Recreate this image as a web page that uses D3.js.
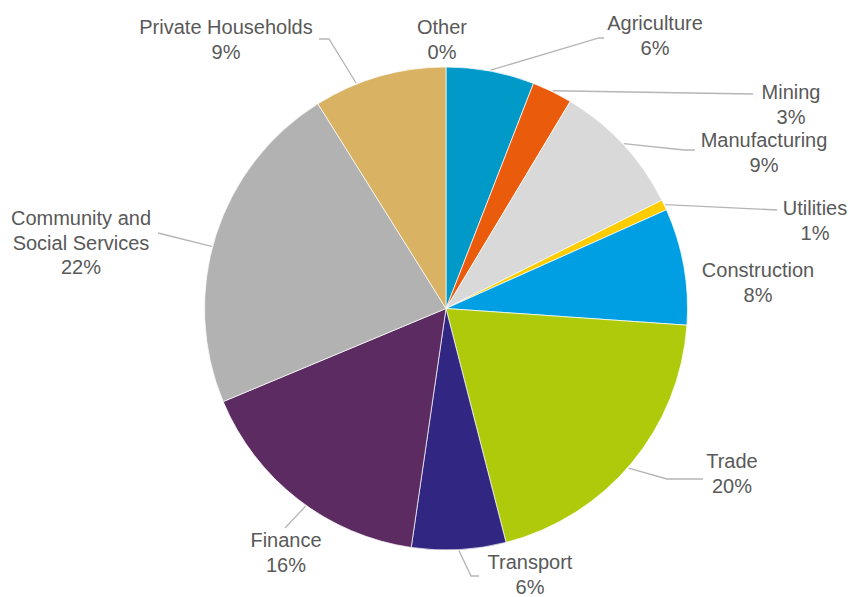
<!DOCTYPE html>
<html>
<head>
<meta charset="utf-8">
<script src="https://cdn.jsdelivr.net/npm/d3@7"></script>
<style>
  html, body { margin: 0; padding: 0; background: #ffffff; }
  svg { display: block; }
</style>
</head>
<body>
<svg id="chart" width="849" height="597"></svg>
<script>
// Employment share by sector (percent), clockwise from 12 o'clock
const sectors = ["Agriculture", "Mining", "Manufacturing", "Utilities", "Construction",
                 "Trade", "Transport", "Finance", "Community and Social Services",
                 "Private Households", "Other"];
const shares = [5.9, 2.7, 9.0, 0.7, 7.8, 19.9, 6.3, 16.4, 22.4, 8.9, 0];
const sliceColors = ["#0099C8", "#EA5B0C", "#D9D9D9", "#FFCC00", "#009FE3",
                     "#AFCA0B", "#312782", "#5C2B62", "#B2B2B2", "#D9B263", "#7F7F7F"];

// Label placement: text centre x, first baseline y, text lines,
// leader elbow/end points and an angular nudge (deg) for the leader's start
const labelLayout = [
  { x: 655, y: 30,  lines: ["Agriculture"], leader: [[599, 38], [604, 38]], nudge: 0 },
  { x: 791, y: 99,  lines: ["Mining"], leader: [[753, 94]], nudge: 0 },
  { x: 764, y: 147, lines: ["Manufacturing"], leader: [[684, 150], [695, 150]], nudge: 0 },
  { x: 815, y: 215, lines: ["Utilities"], leader: [[777, 210]], nudge: 0 },
  { x: 758, y: 277, lines: ["Construction"], leader: null, nudge: 0 },
  { x: 732, y: 468, lines: ["Trade"], leader: [[667, 479], [703, 479]], nudge: 1.4 },
  { x: 530, y: 569, lines: ["Transport"], leader: [[471, 576], [479, 576]], nudge: 0 },
  { x: 286, y: 547, lines: ["Finance"], leader: [[285, 528]], nudge: -2.4 },
  { x: 81,  y: 225, lines: ["Community and", "Social Services"], leader: [[158, 233]], nudge: -2.8 },
  { x: 226, y: 34,  lines: ["Private Households"], leader: [[329, 39], [319, 39]], nudge: -5.7 },
  { x: 442, y: 34,  lines: ["Other"], leader: null, nudge: 0 }
];

const svg = d3.select("#chart");
const cx = 446, cy = 308.5, R = 241.5;
const lineGap = 24.5;

const data = sectors.map((name, i) => ({ name, value: shares[i], color: sliceColors[i], layout: labelLayout[i] }));
const total = d3.sum(shares);
const pct = d3.format(".0%");

const pie = d3.pie().value(d => d.value).sort(null).startAngle(0).endAngle(2 * Math.PI);
const arc = d3.arc().innerRadius(0).outerRadius(R);
const arcs = pie(data);

const g = svg.append("g").attr("transform", `translate(${cx},${cy})`);

g.selectAll("path.slice")
  .data(arcs.filter(d => d.value > 0))
  .join("path")
  .attr("class", "slice")
  .attr("d", arc)
  .attr("fill", d => d.data.color)
  .attr("stroke", "#ffffff")
  .attr("stroke-width", 0.7);

// leader lines
const polar = (angle, r) => [cx + r * Math.sin(angle), cy - r * Math.cos(angle)];
const lineGen = d3.line();
svg.append("g")
  .selectAll("path.leader")
  .data(arcs.filter(d => d.data.layout.leader))
  .join("path")
  .attr("class", "leader")
  .attr("d", d => {
    const mid = (d.startAngle + d.endAngle) / 2 + d.data.layout.nudge * Math.PI / 180;
    return lineGen([polar(mid, R + 1), ...d.data.layout.leader]);
  })
  .attr("fill", "none")
  .attr("stroke", "#B5B5B5")
  .attr("stroke-width", 1.3);

// category and percentage labels
const labels = svg.append("g")
  .attr("font-family", "'Liberation Sans', Arial, sans-serif")
  .attr("font-size", 20)
  .attr("fill", "#595959")
  .attr("text-anchor", "middle");

arcs.forEach(d => {
  const L = d.data.layout;
  const t = labels.append("text").attr("x", L.x).attr("y", L.y);
  const rows = [...L.lines, pct(d.data.value / total)];
  rows.forEach((row, i) => {
    t.append("tspan").attr("x", L.x).attr("y", L.y + i * lineGap).text(row);
  });
});
</script>
</body>
</html>
